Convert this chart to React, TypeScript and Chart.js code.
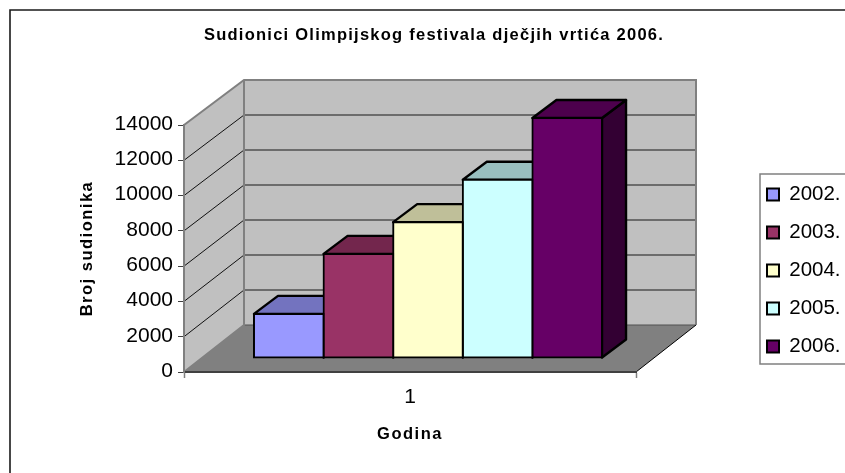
import React, { useEffect, useRef } from "react";
import { Chart, registerables } from "chart.js";

Chart.register(...registerables);

const chartTitle = "Sudionici Olimpijskog festivala dječjih vrtića 2006.";
const xTitle = "Godina";
const yTitle = "Broj sudionika";
const categories = ["1"];
const years = ["2002.", "2003.", "2004.", "2005.", "2006."];
const participants = [2500, 5900, 7700, 10100, 13600];
const frontColors = ["#9999FF", "#993366", "#FFFFCC", "#CCFFFF", "#660066"];
const topColors = ["#7373BF", "#73264D", "#BFBF99", "#99BFBF", "#4D004D"];
const sideColors = ["#4D4D80", "#4D1A33", "#808066", "#668080", "#330033"];

const FONT = "'Liberation Sans', Arial, sans-serif";
const WALL_DX = 60;
const WALL_DY_TOP = -45;
const WALL_DY_BOTTOM = -47;
const BAR_SHIFT = { dx: 18, dy: -14 };
const BAR_DEPTH = { dx: 24, dy: -18 };

function poly(ctx: CanvasRenderingContext2D, pts: number[][], fill: string | null, stroke: string | null, lw = 1) {
  ctx.beginPath();
  pts.forEach((p, i) => (i ? ctx.lineTo(p[0], p[1]) : ctx.moveTo(p[0], p[1])));
  if (fill) {
    ctx.closePath();
    ctx.fillStyle = fill;
    ctx.fill();
  }
  if (stroke) {
    ctx.strokeStyle = stroke;
    ctx.lineWidth = lw;
    ctx.stroke();
  }
}

const spaced = (chart: any, owner: any, method: string, spacing: string) => {
  if (owner["__" + method]) return;
  const original = owner[method].bind(owner);
  owner["__" + method] = true;
  owner[method] = (...args: any[]) => {
    (chart.ctx as any).letterSpacing = spacing;
    original(...args);
    (chart.ctx as any).letterSpacing = "0px";
  };
};

const box3d = {
  id: "box3d",
  beforeLayout(chart: any) {
    const legend = chart.legend;
    if (legend && !legend.__fit) {
      legend.__fit = true;
      const fit = legend.fit.bind(legend);
      legend.fit = () => {
        fit();
        legend.width = 209;
      };
    }
  },
  beforeDraw(chart: any) {
    const { ctx, chartArea: a, width, height } = chart;
    const y = chart.scales.y;
    ctx.save();
    ctx.fillStyle = "#FFFFFF";
    ctx.fillRect(0, 0, width, height);

    // outer chart frame
    poly(ctx, [[10, height + 4], [10, 10], [width + 4, 10]], null, "#1A1A1A", 1.6);

    const L = a.left, R = a.right, B = a.bottom, T = a.top;
    const bx = L + WALL_DX, rx = R + WALL_DX, by = B + WALL_DY_BOTTOM, ty = T + WALL_DY_TOP;

    poly(ctx, [[L, B], [L, T], [bx, ty], [bx, by]], "#C0C0C0", null);
    poly(ctx, [[bx, ty], [rx, ty], [rx, by], [bx, by]], "#C0C0C0", null);
    poly(ctx, [[L, B], [bx, by], [rx, by], [R, B]], "#808080", null);

    y.ticks.forEach((t: any) => {
      const py = y.getPixelForValue(t.value);
      const backY = py + WALL_DY_TOP + ((WALL_DY_BOTTOM - WALL_DY_TOP) * (py - T)) / (B - T);
      if (t.value > 0 && t.value < 14000) {
        poly(ctx, [[L, py], [bx, backY]], null, "#111111", 1);
        poly(ctx, [[bx, backY], [rx, backY]], null, "#505050", 1.5);
      }
    });
    poly(ctx, [[bx, by], [rx, by]], null, "#505050", 1);
    poly(ctx, [[L, T], [bx, ty], [rx, ty], [rx, by]], null, "#808080", 2);
    poly(ctx, [[bx, ty], [bx, by], [L, B]], null, "#808080", 2);
    poly(ctx, [[R, B], [rx, by]], null, "#000000", 1);

    // legend frame
    poly(ctx, [[width + 4, 174], [760, 174], [760, 364], [width + 4, 364]], null, "#808080", 1.5);
    ctx.restore();

    const legend = chart.legend;
    legend.left = 749.5;
    legend.right = 900;
    legend.top = 166.7;
    legend.bottom = 380;

    const title = chart.titleBlock;
    title.left = 434 - 400;
    title.right = 434 + 400;
    spaced(chart, title, "draw", "1.25px");
    spaced(chart, y, "drawTitle", "1.5px");
    spaced(chart, chart.scales.x, "drawTitle", "1.5px");
  },
  beforeDatasetsDraw(chart: any) {
    const { ctx } = chart;
    ctx.save();
    ctx.lineJoin = "round";
    participants.forEach((_, i) => {
      const el = chart.getDatasetMeta(i).data[0];
      const x0 = el.x - el.width / 2 + BAR_SHIFT.dx;
      const x1 = el.x + el.width / 2 + BAR_SHIFT.dx;
      const yt = el.y + BAR_SHIFT.dy;
      const yb = el.base + BAR_SHIFT.dy;
      const d = BAR_DEPTH;
      poly(ctx, [[x1, yt], [x1 + d.dx, yt + d.dy], [x1 + d.dx, yb + d.dy], [x1, yb]], sideColors[i], "#000000", 2.4);
      poly(ctx, [[x0, yt], [x0 + d.dx, yt + d.dy], [x1 + d.dx, yt + d.dy], [x1, yt]], topColors[i], "#000000", 2.4);
    });
    ctx.restore();
  },
  beforeDatasetDraw(chart: any) {
    chart.ctx.save();
    chart.ctx.translate(BAR_SHIFT.dx, BAR_SHIFT.dy);
  },
  afterDatasetDraw(chart: any) {
    chart.ctx.restore();
  },
};

export default function App() {
  const ref = useRef<HTMLCanvasElement>(null);
  useEffect(() => {
    document.body.style.margin = "0";
    const chart = new Chart(ref.current!, {
      type: "bar",
      data: {
        labels: categories,
        datasets: years.map((year, i) => ({
          label: year,
          data: [participants[i]],
          backgroundColor: frontColors[i],
          borderColor: "#000000",
          borderWidth: 2,
          borderSkipped: false,
          inflateAmount: 1,
          clip: false,
          barPercentage: 1,
          categoryPercentage: 0.77,
        })),
      } as any,
      options: {
        responsive: false,
        animation: false,
        layout: { padding: 0 },
        plugins: {
          tooltip: { enabled: false },
          title: {
            display: true,
            text: chartTitle,
            color: "#000000",
            font: { family: FONT, size: 16.5, weight: "bold" },
            padding: { top: 26, bottom: 79.2 },
          },
          legend: {
            display: true,
            position: "right",
            align: "start",
            onClick: () => {},
            labels: {
              boxWidth: 12,
              boxHeight: 12,
              padding: 17.5,
              color: "#000000",
              font: { family: FONT, size: 20.5 },
              generateLabels: (c: any) =>
                (Chart.defaults.plugins.legend.labels as any).generateLabels(c).map((l: any) => ({ ...l, lineWidth: 2 })),
            },
          },
        },
        scales: {
          x: {
            afterFit: (s: any) => {
              s.height = 101;
            },
            grid: { display: true, drawOnChartArea: false, tickLength: 6, tickColor: "#808080", tickWidth: 1.5 },
            border: { display: true, color: "#404040", width: 2 },
            ticks: { color: "#000000", font: { family: FONT, size: 21 }, padding: 7, maxRotation: 0 },
            title: {
              display: true,
              text: xTitle,
              color: "#000000",
              font: { family: FONT, size: 16.5, weight: "bold" },
              padding: { top: 0, bottom: 29 },
            },
          },
          y: {
            min: 0,
            max: 14000,
            afterFit: (s: any) => {
              s.width = 184;
            },
            grid: { display: true, drawOnChartArea: false, tickLength: 6, tickColor: "#404040", tickWidth: 1 },
            border: { display: true, color: "#808080", width: 2 },
            ticks: {
              stepSize: 2000,
              color: "#000000",
              font: { family: FONT, size: 21 },
              padding: 5,
              labelOffset: -1,
              callback: (v: any) => String(v),
            },
            title: {
              display: true,
              text: yTitle,
              color: "#000000",
              font: { family: FONT, size: 16.5, weight: "bold" },
              padding: { top: 78, bottom: 0 },
            },
          },
        },
      },
      plugins: [box3d],
    } as any);
    return () => chart.destroy();
  }, []);
  return (
    <div style={{ width: 845, height: 473, overflow: "hidden" }}>
      <canvas ref={ref} width={845} height={473} style={{ display: "block" }} />
    </div>
  );
}
